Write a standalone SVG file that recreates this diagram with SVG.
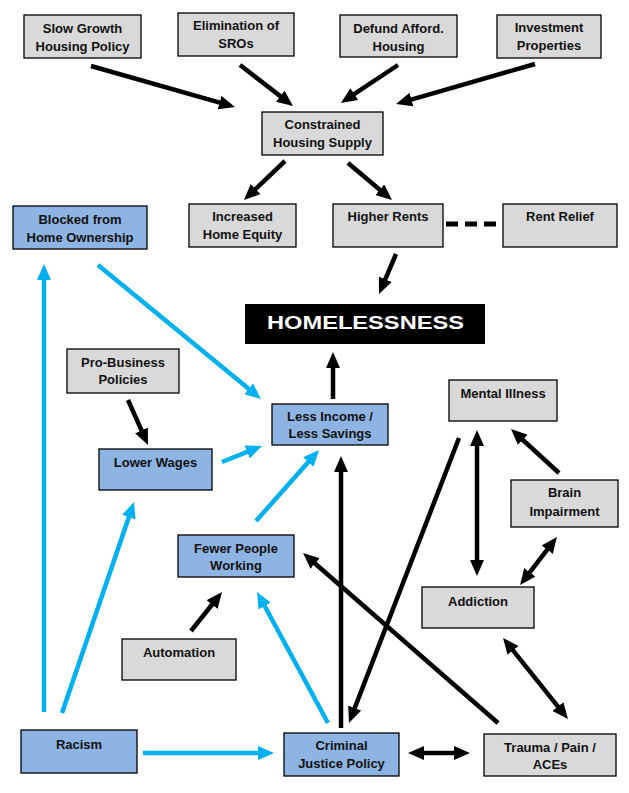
<svg xmlns="http://www.w3.org/2000/svg" width="629" height="793" viewBox="0 0 629 793">
<style>
.g rect{fill:#d9d9d9;stroke:#000;stroke-width:1.3}
.b rect{fill:#8db4e3;stroke:#000;stroke-width:1.3}
text{font-family:"Liberation Sans",Arial,sans-serif;font-weight:bold;font-size:13px;fill:#111;text-anchor:middle}
.k{stroke:#000;stroke-width:4.5;fill:none}
.c{stroke:#00b0f0;stroke-width:4.5;fill:none}
.k1{marker-end:url(#ak)}
.k2{marker-end:url(#ak);marker-start:url(#ak)}
.c1{marker-end:url(#ac)}
</style>
<defs>
<marker id="ak" markerUnits="userSpaceOnUse" markerWidth="16" markerHeight="14" refX="2" refY="7" orient="auto-start-reverse" viewBox="0 0 16 14"><path d="M0,0 L16,7 L0,14 z" fill="#000"/></marker>
<marker id="ac" markerUnits="userSpaceOnUse" markerWidth="16" markerHeight="14" refX="2" refY="7" orient="auto-start-reverse" viewBox="0 0 16 14"><path d="M0,0 L16,7 L0,14 z" fill="#00b0f0"/></marker>
</defs>
<rect width="629" height="793" fill="#fff"/>
<g id="connectors">
<line class="k k1" x1="91" y1="66" x2="221.5" y2="103.2"/>
<line class="k k1" x1="240" y1="65" x2="281.9" y2="97.4"/>
<line class="k k1" x1="398" y1="65" x2="352.6" y2="95.2"/>
<line class="k k1" x1="535" y1="64" x2="409.5" y2="100.1"/>
<line class="k k1" x1="285" y1="161" x2="254.1" y2="190.4"/>
<line class="k k1" x1="348" y1="163" x2="381.3" y2="191"/>
<line class="k k1" x1="396" y1="254" x2="384.5" y2="281.1"/>
<line x1="446" y1="224" x2="497" y2="224" stroke="#000" stroke-width="5" stroke-dasharray="12,7"/>
<line class="c c1" x1="98" y1="265" x2="250.2" y2="390.1"/>
<line class="c c1" x1="44" y1="712" x2="44" y2="278"/>
<line class="c c1" x1="62" y1="713" x2="129.5" y2="515.2"/>
<line class="c c1" x1="222" y1="462" x2="249" y2="451.2"/>
<line class="c c1" x1="256" y1="521" x2="309.7" y2="460.5"/>
<line class="k k1" x1="128" y1="400" x2="142.3" y2="432.2"/>
<line class="k k1" x1="333" y1="399" x2="333" y2="366"/>
<line class="k k1" x1="341" y1="728" x2="341" y2="470"/>
<line class="c c1" x1="328" y1="723" x2="263.7" y2="604.3"/>
<line class="k k1" x1="191" y1="631" x2="213.3" y2="603"/>
<line class="k k1" x1="459" y1="438" x2="354" y2="709.9"/>
<line class="k k1" x1="498" y1="723" x2="313.6" y2="562.2"/>
<line class="k k2" x1="477" y1="444" x2="477" y2="562"/>
<line class="k k1" x1="559" y1="473" x2="521.3" y2="438.5"/>
<line class="k k2" x1="528.6" y1="573.9" x2="548.4" y2="548.1"/>
<line class="k k2" x1="511.8" y1="648.9" x2="559.2" y2="708.1"/>
<line class="k k2" x1="422" y1="753" x2="456" y2="753"/>
<line class="c c1" x1="143" y1="753" x2="260" y2="753"/>
</g>
<g id="slow-growth" class="g"><rect x="24" y="15" width="117" height="43"/><text x="82.5" y="33">Slow Growth</text><text x="82.5" y="51">Housing Policy</text></g>
<g id="elimination-sros" class="g"><rect x="178" y="13" width="116" height="43"/><text x="236" y="30">Elimination of</text><text x="236" y="48">SROs</text></g>
<g id="defund" class="g"><rect x="340" y="15" width="117" height="42"/><text x="398.5" y="33">Defund Afford.</text><text x="398.5" y="51">Housing</text></g>
<g id="investment" class="g"><rect x="497" y="15" width="104" height="43"/><text x="549" y="32">Investment</text><text x="549" y="50">Properties</text></g>
<g id="constrained" class="g"><rect x="262" y="112" width="121" height="43"/><text x="322.5" y="129">Constrained</text><text x="322.5" y="147">Housing Supply</text></g>
<g id="blocked" class="b"><rect x="13" y="206" width="134" height="43"/><text x="80" y="224">Blocked from</text><text x="80" y="242">Home Ownership</text></g>
<g id="increased-equity" class="g"><rect x="189" y="204" width="107" height="43"/><text x="242.5" y="221">Increased</text><text x="242.5" y="239">Home Equity</text></g>
<g id="higher-rents" class="g"><rect x="333" y="204" width="110" height="43"/><text x="388" y="221">Higher Rents</text></g>
<g id="rent-relief" class="g"><rect x="503" y="204" width="114" height="43"/><text x="560" y="221">Rent Relief</text></g>
<g id="homelessness"><rect x="245" y="304" width="240" height="40" fill="#000"/><text x="365.5" y="329" style="fill:#fff;font-size:19px" textLength="197" lengthAdjust="spacingAndGlyphs">HOMELESSNESS</text></g>
<g id="pro-business" class="g"><rect x="67" y="349" width="112" height="44"/><text x="123" y="367">Pro-Business</text><text x="123" y="384">Policies</text></g>
<g id="less-income" class="b"><rect x="272" y="404" width="116" height="41"/><text x="330" y="421">Less Income /</text><text x="330" y="438">Less Savings</text></g>
<g id="mental-illness" class="g"><rect x="449" y="380" width="108" height="41"/><text x="503" y="398">Mental Illness</text></g>
<g id="lower-wages" class="b"><rect x="99" y="449" width="113" height="41"/><text x="155.5" y="467">Lower Wages</text></g>
<g id="brain-impairment" class="g"><rect x="511" y="480" width="107" height="47"/><text x="564.5" y="497">Brain</text><text x="564.5" y="516">Impairment</text></g>
<g id="fewer-people" class="b"><rect x="178" y="535" width="116" height="42"/><text x="236" y="553">Fewer People</text><text x="236" y="570">Working</text></g>
<g id="addiction" class="g"><rect x="422" y="587" width="112" height="41"/><text x="478" y="606">Addiction</text></g>
<g id="automation" class="g"><rect x="122" y="639" width="114" height="41"/><text x="179" y="657">Automation</text></g>
<g id="racism" class="b"><rect x="21" y="730" width="116" height="43"/><text x="79" y="749">Racism</text></g>
<g id="criminal-justice" class="b"><rect x="284" y="733" width="115" height="43"/><text x="341.5" y="750">Criminal</text><text x="341.5" y="768">Justice Policy</text></g>
<g id="trauma" class="g"><rect x="484" y="734" width="132" height="42"/><text x="550" y="752">Trauma / Pain /</text><text x="550" y="769">ACEs</text></g>
</svg>
